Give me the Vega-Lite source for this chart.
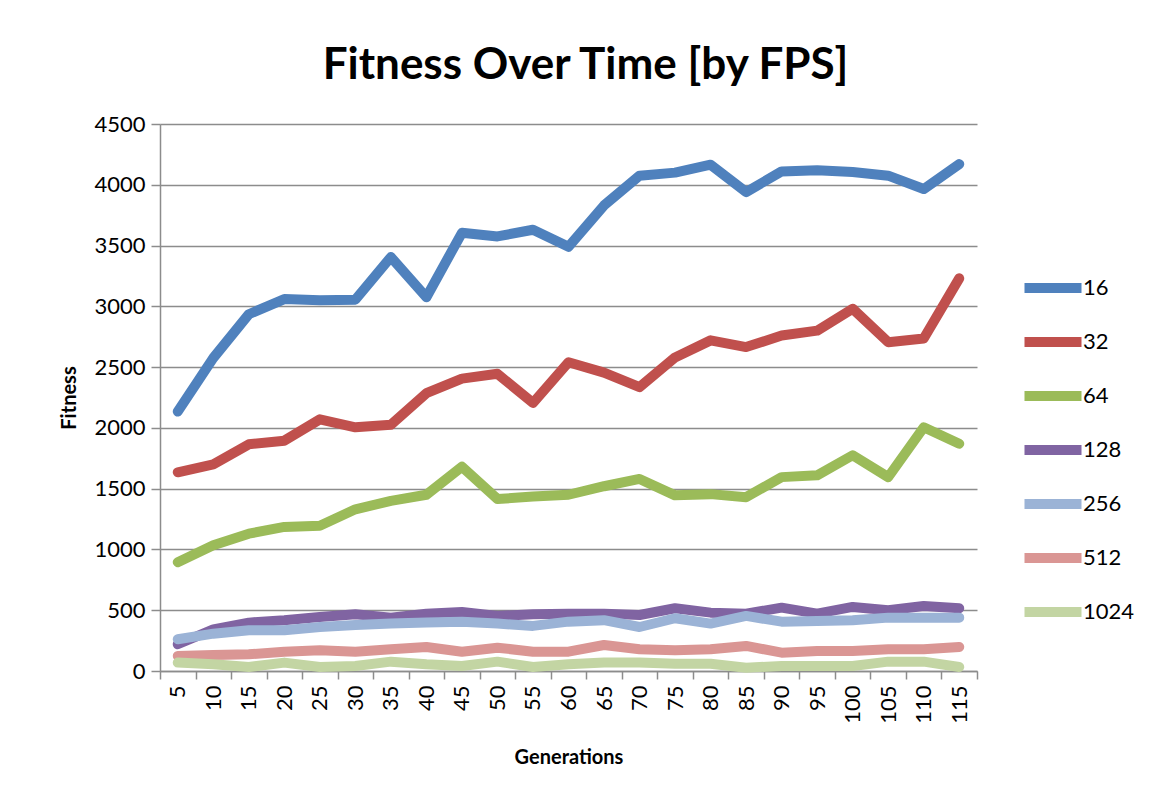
{
  "$schema": "https://vega.github.io/schema/vega-lite/v6.json",
  "width": 817,
  "height": 547,
  "autosize": {"type": "none"},
  "padding": {"left": 160, "top": 124, "right": 194, "bottom": 135},
  "background": "white",
  "config": {
    "font": "Lato",
    "view": {"stroke": null}
  },
  "title": {
    "text": "Fitness Over Time [by FPS]",
    "font": "Lato",
    "fontSize": 44,
    "fontWeight": "bold",
    "color": "#000000",
    "anchor": "middle",
    "baseline": "alphabetic",
    "offset": -10,
    "dx": 17
  },
  "data": {
    "values": [
      {"g":5,"s":"16","v":2135},{"g":10,"s":"16","v":2575},{"g":15,"s":"16","v":2935},{"g":20,"s":"16","v":3060},{"g":25,"s":"16","v":3050},{"g":30,"s":"16","v":3055},{"g":35,"s":"16","v":3405},{"g":40,"s":"16","v":3075},{"g":45,"s":"16","v":3605},{"g":50,"s":"16","v":3575},{"g":55,"s":"16","v":3630},{"g":60,"s":"16","v":3490},{"g":65,"s":"16","v":3830},{"g":70,"s":"16","v":4075},{"g":75,"s":"16","v":4100},{"g":80,"s":"16","v":4165},{"g":85,"s":"16","v":3940},{"g":90,"s":"16","v":4110},{"g":95,"s":"16","v":4120},{"g":100,"s":"16","v":4105},{"g":105,"s":"16","v":4075},{"g":110,"s":"16","v":3965},{"g":115,"s":"16","v":4170},
      {"g":5,"s":"32","v":1635},{"g":10,"s":"32","v":1700},{"g":15,"s":"32","v":1865},{"g":20,"s":"32","v":1895},{"g":25,"s":"32","v":2070},{"g":30,"s":"32","v":2005},{"g":35,"s":"32","v":2025},{"g":40,"s":"32","v":2285},{"g":45,"s":"32","v":2405},{"g":50,"s":"32","v":2445},{"g":55,"s":"32","v":2205},{"g":60,"s":"32","v":2540},{"g":65,"s":"32","v":2455},{"g":70,"s":"32","v":2335},{"g":75,"s":"32","v":2580},{"g":80,"s":"32","v":2720},{"g":85,"s":"32","v":2665},{"g":90,"s":"32","v":2760},{"g":95,"s":"32","v":2800},{"g":100,"s":"32","v":2980},{"g":105,"s":"32","v":2705},{"g":110,"s":"32","v":2735},{"g":115,"s":"32","v":3230},
      {"g":5,"s":"64","v":895},{"g":10,"s":"64","v":1035},{"g":15,"s":"64","v":1130},{"g":20,"s":"64","v":1185},{"g":25,"s":"64","v":1195},{"g":30,"s":"64","v":1330},{"g":35,"s":"64","v":1400},{"g":40,"s":"64","v":1450},{"g":45,"s":"64","v":1680},{"g":50,"s":"64","v":1415},{"g":55,"s":"64","v":1435},{"g":60,"s":"64","v":1450},{"g":65,"s":"64","v":1520},{"g":70,"s":"64","v":1580},{"g":75,"s":"64","v":1445},{"g":80,"s":"64","v":1455},{"g":85,"s":"64","v":1430},{"g":90,"s":"64","v":1595},{"g":95,"s":"64","v":1610},{"g":100,"s":"64","v":1775},{"g":105,"s":"64","v":1595},{"g":110,"s":"64","v":2005},{"g":115,"s":"64","v":1870},
      {"g":5,"s":"128","v":220},{"g":10,"s":"128","v":343},{"g":15,"s":"128","v":398},{"g":20,"s":"128","v":418},{"g":25,"s":"128","v":445},{"g":30,"s":"128","v":467},{"g":35,"s":"128","v":439},{"g":40,"s":"128","v":472},{"g":45,"s":"128","v":486},{"g":50,"s":"128","v":453},{"g":55,"s":"128","v":467},{"g":60,"s":"128","v":472},{"g":65,"s":"128","v":472},{"g":70,"s":"128","v":461},{"g":75,"s":"128","v":516},{"g":80,"s":"128","v":480},{"g":85,"s":"128","v":472},{"g":90,"s":"128","v":521},{"g":95,"s":"128","v":472},{"g":100,"s":"128","v":527},{"g":105,"s":"128","v":500},{"g":110,"s":"128","v":535},{"g":115,"s":"128","v":516},
      {"g":5,"s":"256","v":261},{"g":10,"s":"256","v":307},{"g":15,"s":"256","v":335},{"g":20,"s":"256","v":335},{"g":25,"s":"256","v":362},{"g":30,"s":"256","v":379},{"g":35,"s":"256","v":390},{"g":40,"s":"256","v":398},{"g":45,"s":"256","v":406},{"g":50,"s":"256","v":390},{"g":55,"s":"256","v":371},{"g":60,"s":"256","v":406},{"g":65,"s":"256","v":418},{"g":70,"s":"256","v":362},{"g":75,"s":"256","v":434},{"g":80,"s":"256","v":390},{"g":85,"s":"256","v":453},{"g":90,"s":"256","v":406},{"g":95,"s":"256","v":412},{"g":100,"s":"256","v":418},{"g":105,"s":"256","v":439},{"g":110,"s":"256","v":439},{"g":115,"s":"256","v":439},
      {"g":5,"s":"512","v":124},{"g":10,"s":"512","v":132},{"g":15,"s":"512","v":137},{"g":20,"s":"512","v":159},{"g":25,"s":"512","v":170},{"g":30,"s":"512","v":159},{"g":35,"s":"512","v":179},{"g":40,"s":"512","v":198},{"g":45,"s":"512","v":159},{"g":50,"s":"512","v":192},{"g":55,"s":"512","v":159},{"g":60,"s":"512","v":159},{"g":65,"s":"512","v":214},{"g":70,"s":"512","v":179},{"g":75,"s":"512","v":170},{"g":80,"s":"512","v":179},{"g":85,"s":"512","v":206},{"g":90,"s":"512","v":151},{"g":95,"s":"512","v":165},{"g":100,"s":"512","v":165},{"g":105,"s":"512","v":179},{"g":110,"s":"512","v":179},{"g":115,"s":"512","v":198},
      {"g":5,"s":"1024","v":69},{"g":10,"s":"1024","v":55},{"g":15,"s":"1024","v":33},{"g":20,"s":"1024","v":69},{"g":25,"s":"1024","v":33},{"g":30,"s":"1024","v":41},{"g":35,"s":"1024","v":77},{"g":40,"s":"1024","v":55},{"g":45,"s":"1024","v":41},{"g":50,"s":"1024","v":77},{"g":55,"s":"1024","v":33},{"g":60,"s":"1024","v":55},{"g":65,"s":"1024","v":69},{"g":70,"s":"1024","v":69},{"g":75,"s":"1024","v":60},{"g":80,"s":"1024","v":60},{"g":85,"s":"1024","v":27},{"g":90,"s":"1024","v":41},{"g":95,"s":"1024","v":41},{"g":100,"s":"1024","v":41},{"g":105,"s":"1024","v":77},{"g":110,"s":"1024","v":77},{"g":115,"s":"1024","v":33}
    ]
  },
  "mark": {"type": "line", "strokeWidth": 10, "strokeCap": "round", "strokeJoin": "round"},
  "encoding": {
    "x": {
      "field": "g",
      "type": "ordinal",
      "bandPosition": 0.5,
      "scale": {"type": "band", "paddingInner": 0, "paddingOuter": 0},
      "axis": {
        "title": "Generations",
        "titleFont": "Lato",
        "titleFontSize": 20,
        "titleFontWeight": "bold",
        "titleColor": "#000000",
        "titlePadding": 24,
        "labelAngle": 270,
        "labelFont": "Lato",
        "labelFontSize": 22,
        "labelColor": "#000000",
        "labelPadding": 6,
        "tickBand": "extent",
        "tickSize": 8,
        "tickWidth": 1.5,
        "tickColor": "#8c8c8c",
        "domainColor": "#8c8c8c",
        "domainWidth": 1.5,
        "grid": false
      }
    },
    "y": {
      "field": "v",
      "type": "quantitative",
      "scale": {"domain": [0, 4500], "nice": false},
      "axis": {
        "title": "Fitness",
        "titleFont": "Lato",
        "titleFontSize": 20,
        "titleFontWeight": "bold",
        "titleColor": "#000000",
        "titlePadding": 14,
        "format": "d",
        "values": [0, 500, 1000, 1500, 2000, 2500, 3000, 3500, 4000, 4500],
        "labelFont": "Lato",
        "labelFontSize": 22,
        "labelColor": "#000000",
        "labelPadding": 6,
        "tickSize": 9,
        "tickWidth": 1.5,
        "tickColor": "#8c8c8c",
        "domainColor": "#8c8c8c",
        "domainWidth": 1.5,
        "grid": true,
        "gridColor": "#8c8c8c",
        "gridWidth": 1.5
      }
    },
    "color": {
      "field": "s",
      "type": "nominal",
      "scale": {
        "domain": ["16", "32", "64", "128", "256", "512", "1024"],
        "range": ["#4F81BD", "#C0504D", "#9BBB59", "#8064A2", "#9BB3D6", "#DA9694", "#C3D5A3"]
      },
      "legend": {
        "title": null,
        "orient": "none",
        "legendX": 859,
        "legendY": 130,
        "symbolType": "stroke",
        "symbolSize": 3250,
        "symbolStrokeWidth": 10,
        "labelFont": "Lato",
        "labelFontSize": 22,
        "labelColor": "#000000",
        "labelOffset": -4,
        "rowPadding": -20
      }
    }
  }
}
